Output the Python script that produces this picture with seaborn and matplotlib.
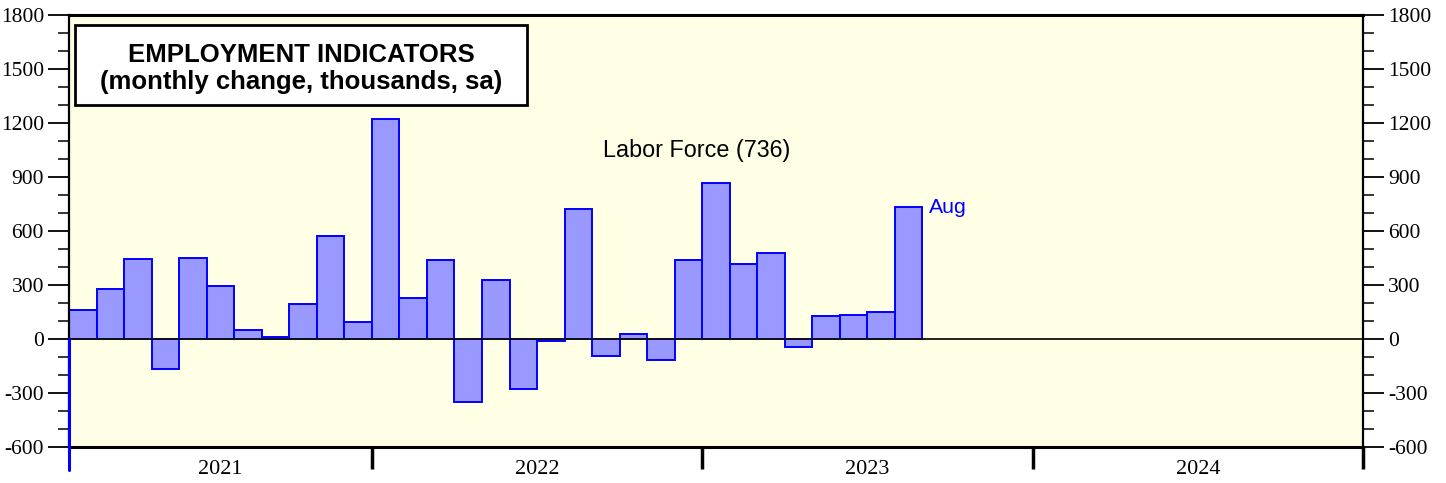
import matplotlib
matplotlib.use("Agg")
import matplotlib.pyplot as plt
from matplotlib.patches import Rectangle
from matplotlib.ticker import MultipleLocator, FixedLocator, NullFormatter
import pandas as pd
import seaborn as sns

# monthly change in labor force, thousands, Feb 2021 .. Aug 2023
MONTHS = pd.period_range("2021-02", "2023-08", freq="M").strftime("%Y-%m").tolist()
LABOR_FORCE = [
    162, 276, 443, -167, 450, 295, 48, 9, 195, 572, 95,
    1221, 228, 437, -352, 326, -278, -11, 722, -96, 28, -118, 439,
    867, 419, 480, -43, 130, 133, 152, 736,
]
AXIS_START = "2021-02"
AXIS_END = "2024-12"
YEARS = ["2021", "2022", "2023", "2024"]

BG_PLOT = "#FFFFE6"
BAR_FILL = "#9999FF"
BAR_EDGE = "#0000FF"

sns.set_style("white")
plt.rcParams["font.family"] = ["Liberation Sans", "DejaVu Sans"]
plt.rcParams["text.color"] = "black"

start = pd.Period(AXIS_START, freq="M")
df = pd.DataFrame({"month": MONTHS, "value": LABOR_FORCE})
df["idx"] = [(pd.Period(m, freq="M") - start).n for m in df["month"]]
n_months = (pd.Period(AXIS_END, freq="M") - start).n + 1

fig = plt.figure(figsize=(14.46, 4.83), dpi=100)
ax = fig.add_axes([69 / 1446, 36 / 483, 1294 / 1446, 432 / 483])
ax.set_facecolor(BG_PLOT)

sns.barplot(data=df, x="idx", y="value", native_scale=True, width=1.0,
            color=BAR_FILL, saturation=1, edgecolor=BAR_EDGE, linewidth=1.4,
            ax=ax, zorder=2)

ax.set_xlim(-0.5, n_months - 0.5)
ax.set_ylim(-600, 1800)
ax.axhline(0, color="#111111", linewidth=1.3, zorder=3)

# blue left marker line running below the axis
ax.plot([-0.5, -0.5], [0, -730], color=BAR_EDGE, linewidth=2.2,
        clip_on=False, zorder=5)

# y axis on both sides
ax.yaxis.set_major_locator(MultipleLocator(300))
ax.yaxis.set_minor_locator(MultipleLocator(100))
ax.tick_params(axis="y", which="major", direction="out", length=15, width=1.3,
               left=True, right=True, labelleft=True, labelright=True,
               labelsize=15.5, pad=3, colors="black")
ax.tick_params(axis="y", which="minor", direction="out", length=8, width=1.3,
               left=True, right=True)
ax.set_yticklabels([f"{int(v)}" for v in ax.get_yticks()], family="Liberation Serif")

# x axis: year boundaries as ticks, year names centered between them
bounds = [-0.5 + 12 * k - start.month + 1 for k in range(1, len(YEARS) + 1)]
centers = [(max(-0.5, b - 12) + b) / 2 for b in bounds]
ax.xaxis.set_major_locator(FixedLocator(bounds))
ax.xaxis.set_major_formatter(NullFormatter())
ax.set_xticks(centers, labels=YEARS, minor=True)
ax.tick_params(axis="x", which="major", direction="out", length=16, width=2.5,
               bottom=True, colors="black")
ax.tick_params(axis="x", which="minor", length=0, pad=9, labelsize=16,
               colors="black")
for lab in ax.get_xticklabels(minor=True):
    lab.set_fontfamily("Liberation Serif")

ax.set_xlabel("")
ax.set_ylabel("")
for side, spine in ax.spines.items():
    spine.set_visible(True)
    spine.set_color("black")
    spine.set_linewidth(2.2 if side in ("top", "bottom") else 1.6)

# title box
ax.add_patch(Rectangle((0.0046, 0.7917), 0.3493, 0.185, transform=ax.transAxes,
                       facecolor="white", edgecolor="black", linewidth=2,
                       zorder=6))
ax.text(0.1793, 0.876, "EMPLOYMENT INDICATORS\n(monthly change, thousands, sa)",
        transform=ax.transAxes, ha="center", va="center", fontsize=18.5,
        fontweight="bold", linespacing=1.2, zorder=7)

ax.text(22.3, 1050, f"Labor Force ({LABOR_FORCE[-1]})", ha="center",
        va="center", fontsize=16.8, zorder=6)
ax.text(df["idx"].iloc[-1] + 0.75, 728, "Aug", ha="left", va="center",
        fontsize=15.3, color=BAR_EDGE, zorder=6)

fig.savefig("out.png", dpi=100, facecolor="white")
